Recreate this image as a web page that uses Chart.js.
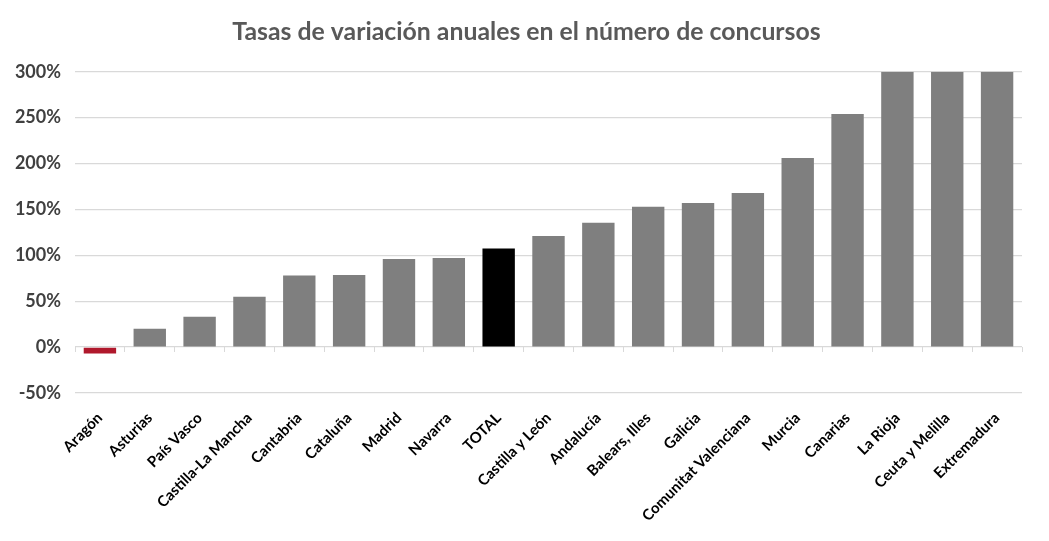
<!DOCTYPE html>
<html>
<head>
<meta charset="utf-8">
<script src="https://cdn.jsdelivr.net/npm/chart.js@4/dist/chart.umd.min.js"></script>
<style>
html,body{margin:0;padding:0;background:#fff;}
#wrap{position:relative;width:1049px;height:541px;}
</style>
</head>
<body>
<div id="wrap"><canvas id="c"></canvas></div>
<script>
const categories = ["Aragón","Asturias","País Vasco","Castilla-La Mancha","Cantabria","Cataluña","Madrid","Navarra","TOTAL","Castilla y León","Andalucía","Balears, Illes","Galicia","Comunitat Valenciana","Murcia","Canarias","La Rioja","Ceuta y Melilla","Extremadura"];
const values = [-7, 20, 33, 55, 78, 78.5, 96, 97, 107.5, 121, 135.5, 153, 157, 168, 206, 254, 300, 300, 300];
const yTicks = [-50, 0, 50, 100, 150, 200, 250, 300];
const titleText = "Tasas de variación anuales en el número de concursos";

const colors = categories.map(c => c === "Aragón" ? "#b0182c" : (c === "TOTAL" ? "#000000" : "#7f7f7f"));

const FONT = "Lato, 'Open Sans', sans-serif";

new Chart(document.getElementById('c'), {
  type: 'bar',
  data: {
    labels: categories,
    datasets: [{
      data: values,
      backgroundColor: colors,
      borderWidth: 0,
      barPercentage: 0.65,
      categoryPercentage: 1.0,
      xAxisID: 'x',
      yAxisID: 'y'
    }]
  },
  options: {
    responsive: true,
    maintainAspectRatio: false,
    animation: false,
    layout: { padding: { left: 4, right: 0, top: 10, bottom: 0 } },
    plugins: {
      legend: { display: false },
      tooltip: { enabled: false },
      title: {
        display: true,
        text: titleText,
        color: '#595959',
        font: { family: FONT, size: 24.8, weight: 'bold' },
        padding: { top: 7, bottom: 25 }
      }
    },
    scales: {
      x: {
        type: 'category',
        position: 'bottom',
        grid: { display: false, drawTicks: false },
        border: { display: false },
        ticks: {
          color: '#000000',
          font: { family: FONT, size: 15, weight: 'bold' },
          minRotation: 45,
          maxRotation: 45,
          autoSkip: false,
          padding: 16
        },
        afterFit: s => { s.height = 148; }
      },
      x2: {
        type: 'category',
        labels: categories,
        position: { y: 0 },
        offset: true,
        grid: { display: true, drawOnChartArea: false, drawTicks: true, offset: true, tickLength: 5, color: '#d9d9d9', lineWidth: 1 },
        border: { display: false },
        ticks: { display: false }
      },
      y: {
        min: -50,
        max: 300,
        afterBuildTicks: s => { s.ticks = yTicks.map(v => ({ value: v })); },
        grid: { color: '#d9d9d9', lineWidth: 1.3, drawTicks: false },
        border: { display: false },
        ticks: {
          color: '#404040',
          font: { family: FONT, size: 18, weight: 'bold' },
          padding: 14,
          callback: v => v + '%'
        },
        afterFit: s => { s.width = 71; }
      },
      yRight: {
        position: 'right',
        min: -50,
        max: 300,
        grid: { display: false, drawTicks: false },
        border: { display: false },
        ticks: { display: false },
        afterFit: s => { s.width = 27; }
      }
    }
  }
});
</script>
</body>
</html>
